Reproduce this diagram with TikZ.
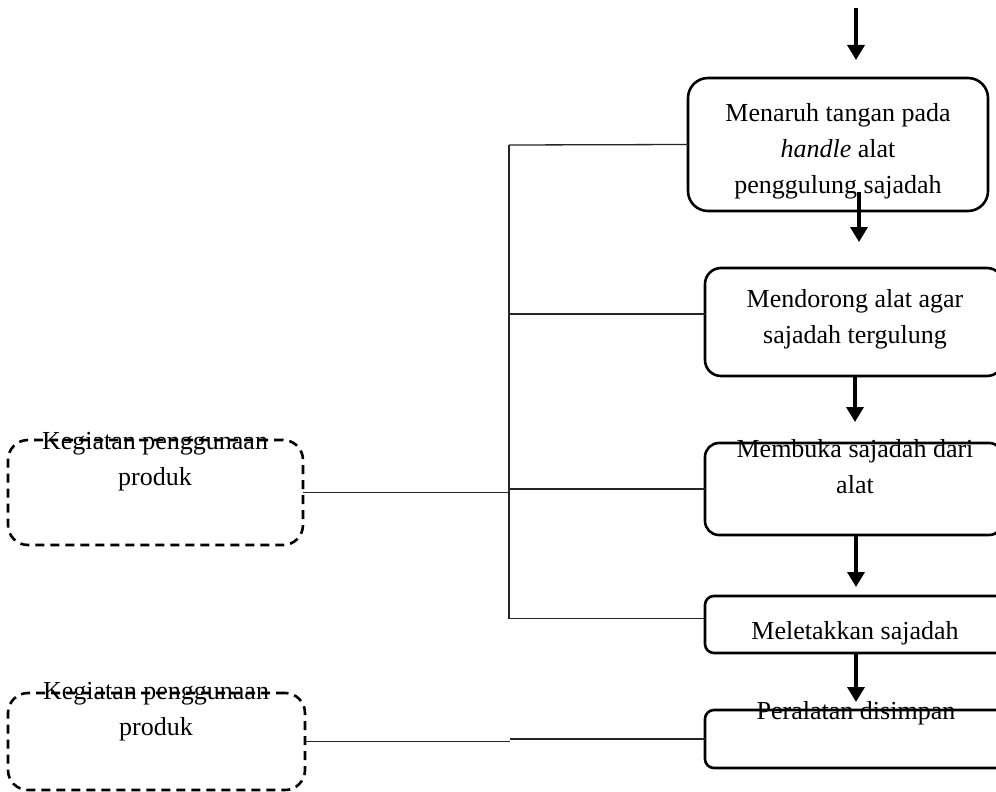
\documentclass[tikz,border=0pt]{standalone}
\usepackage{fontspec}
\setmainfont{Liberation Serif}
\usetikzlibrary{arrows.meta}
\begin{document}
\begin{tikzpicture}[x=1pt,y=-1pt,
  box/.style={draw, line width=2.6pt, rectangle, inner sep=0pt, outer sep=0pt},
  dbox/.style={box, dash pattern=on 9pt off 6pt},
  txt/.style={font=\fontsize{26}{36}\selectfont, align=center, inner sep=0pt},
  link/.style={line width=1.3pt, draw=black!85},
  arr/.style={line width=3.5pt, -{Triangle[width=17pt,length=15pt]}},
]
\useasboundingbox (0,0) rectangle (996,792);
\clip (0,0) rectangle (996,792);

% process boxes
\node[box, rounded corners=20pt, minimum width=300pt, minimum height=133pt] (b1) at (838,144.5) {};
\node[box, rounded corners=16pt, minimum width=298pt, minimum height=108pt] (b2) at (854,322) {};
\node[box, rounded corners=14pt, minimum width=298pt, minimum height=92pt] (b3) at (854,489) {};
\node[box, rounded corners=9pt, minimum width=310pt, minimum height=57pt] (b4) at (860,624.5) {};
\node[box, rounded corners=9pt, minimum width=310pt, minimum height=58pt] (b5) at (860,739) {};

% dashed boxes
\node[dbox, rounded corners=20pt, minimum width=295pt, minimum height=105pt] (bA) at (155.5,492.5) {};
\node[dbox, rounded corners=20pt, minimum width=297pt, minimum height=97pt] (bB) at (156.5,741.5) {};

% texts
\node[txt] (t1) at (838,151) {Menaruh tangan pada\\\textit{handle} alat\\penggulung sajadah};
\node[txt] (t2) at (855,319.5) {Mendorong alat agar\\sajadah tergulung};
\node[txt] (t3) at (855,466.5) {Membuka sajadah dari\\alat};
\node[txt] (t4) at (855,633) {Meletakkan sajadah};
\node[txt] (t5) at (856,713) {Peralatan disimpan};
\node[txt] (tA) at (155,461.5) {Kegiatan penggunaan\\produk};
\node[txt] (tB) at (156,712) {Kegiatan penggunaan\\produk};

% arrows
\coordinate (a0s) at (856,8);
\coordinate (a0e) at (856,60);
\coordinate (a1s) at (859,192);
\coordinate (a1e) at (859,242);
\coordinate (a2e) at (855,422);
\coordinate (a3e) at (856,587);
\coordinate (a4e) at (856,702);
\draw[arr] (a0s) -- (a0e);
\draw[arr] (a1s) -- (a1e);
\draw[arr] (b2.south -| a2e) -- (a2e);
\draw[arr] (b3.south -| a3e) -- (a3e);
\draw[arr] (b4.south -| a4e) -- (a4e);

% connectors
\coordinate (bt) at (509,145);
\coordinate (bb) at (509,619);
\coordinate (mid) at (510,740);
\draw[link] (bt) -- (bb);
\draw[link] (bt) -- (b1.west);
\draw[link] ([yshift=8pt]b2.west) -- ([yshift=8pt]b2.west -| bt);
\draw[link] (bA.east) -- (bA.east -| bt);
\draw[link] (b3.west) -- (b3.west -| bt);
\draw[link] ([yshift=6pt]b4.west) -- ([yshift=6pt]b4.west -| bt);
\draw[link] (bB.east) -- (bB.east -| mid);
\draw[link] (b5.west) -- (b5.west -| mid);
\end{tikzpicture}
\end{document}
